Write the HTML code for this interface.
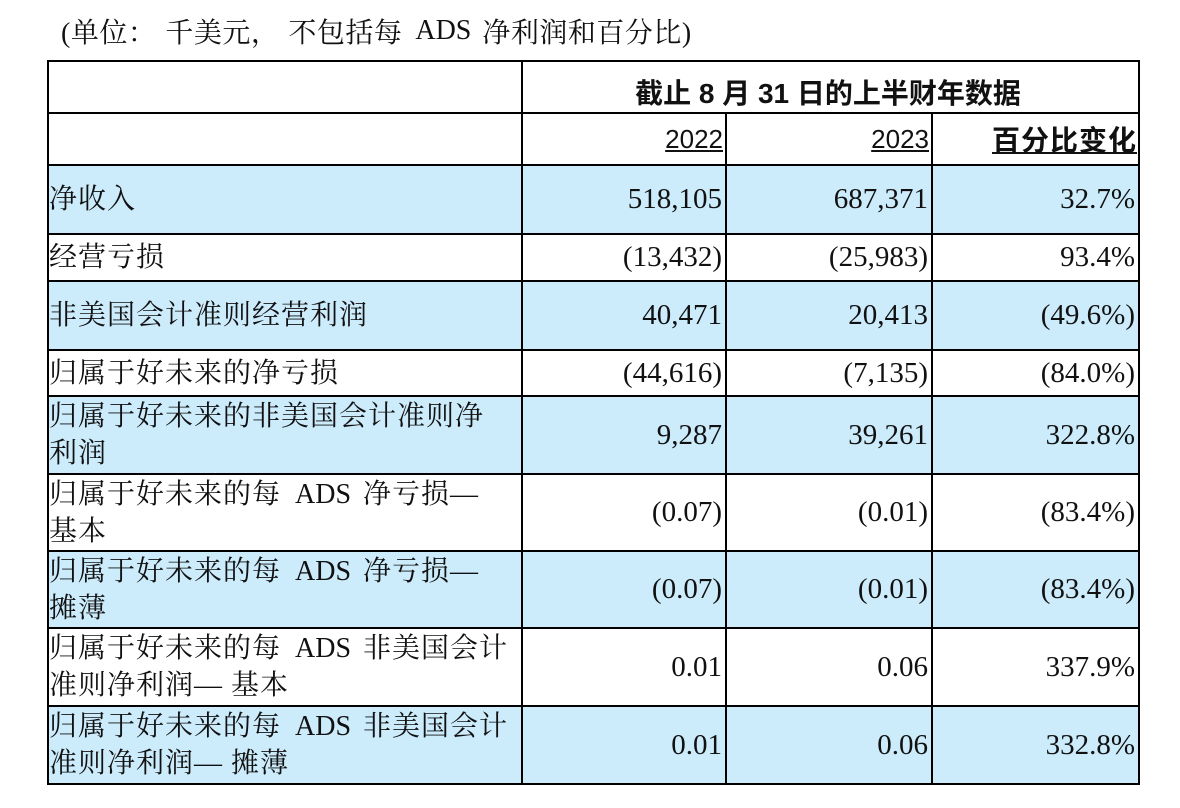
<!DOCTYPE html>
<html>
<head>
<meta charset="utf-8">
<style>
  html, body { margin:0; padding:0; background:#fff; }
  #wrap { position:relative; width:1180px; height:808px; overflow:hidden; background:#fff; }
  .ln { position:absolute; background:#000; }
  .bl { position:absolute; background:#ccecfc; left:47px; width:1093px; }
  .c { position:absolute; display:flex; align-items:center; white-space:nowrap; color:#111; }
  .lab { left:49px; width:470px; font-family:"Liberation Serif","Noto Serif CJK SC",serif; font-size:28px; letter-spacing:1px; line-height:37px; }
  .num { font-family:"Liberation Serif","Noto Serif CJK SC",serif; font-size:29px; justify-content:flex-end; }
  .n1 { left:523px; width:199px; }
  .n2 { left:727px; width:201px; }
  .n3 { left:933px; width:202px; }
  .a1 { margin:0 12px 0 14px; letter-spacing:0; }
</style>
</head>
<body>
<div id="wrap">
  <!-- title -->
  <div class="c" style="left:61px;top:12px;height:38px;font-family:'Liberation Serif','Noto Serif CJK SC',serif;font-size:28px;letter-spacing:0.5px;color:#111;">(单位：<span style="display:inline-block;width:9px"></span>千美元，<span style="display:inline-block;width:9px"></span>不包括每<span style="margin:0 11px 0 13px;letter-spacing:0">ADS</span>净利润和百分比)</div>

  <!-- blue rows -->
  <div class="bl" style="top:166px;height:67px;"></div>
  <div class="bl" style="top:282px;height:67px;"></div>
  <div class="bl" style="top:397px;height:76px;"></div>
  <div class="bl" style="top:552px;height:75px;"></div>
  <div class="bl" style="top:707px;height:76px;"></div>

  <!-- horizontal lines -->
  <div class="ln" style="left:47px;width:1093px;top:60px;height:2px;"></div>
  <div class="ln" style="left:47px;width:1093px;top:112px;height:2px;"></div>
  <div class="ln" style="left:47px;width:1093px;top:164px;height:2px;"></div>
  <div class="ln" style="left:47px;width:1093px;top:233px;height:2px;"></div>
  <div class="ln" style="left:47px;width:1093px;top:280px;height:2px;"></div>
  <div class="ln" style="left:47px;width:1093px;top:349px;height:2px;"></div>
  <div class="ln" style="left:47px;width:1093px;top:395px;height:2px;"></div>
  <div class="ln" style="left:47px;width:1093px;top:473px;height:2px;"></div>
  <div class="ln" style="left:47px;width:1093px;top:550px;height:2px;"></div>
  <div class="ln" style="left:47px;width:1093px;top:627px;height:2px;"></div>
  <div class="ln" style="left:47px;width:1093px;top:705px;height:2px;"></div>
  <div class="ln" style="left:47px;width:1093px;top:783px;height:2px;"></div>

  <!-- vertical lines -->
  <div class="ln" style="left:47px;width:2px;top:60px;height:725px;"></div>
  <div class="ln" style="left:521px;width:2px;top:60px;height:725px;"></div>
  <div class="ln" style="left:725px;width:2px;top:112px;height:673px;"></div>
  <div class="ln" style="left:931px;width:2px;top:112px;height:673px;"></div>
  <div class="ln" style="left:1138px;width:2px;top:60px;height:725px;"></div>

  <!-- header -->
  <div class="c" style="left:523px;width:610px;top:70px;height:44px;justify-content:center;font-family:'Liberation Sans','Noto Sans CJK SC',sans-serif;font-weight:bold;font-size:28px;">截止 8 月 31 日的上半财年数据</div>
  <div class="c" style="left:523px;width:200px;top:114px;height:50px;justify-content:flex-end;font-family:'Liberation Sans',sans-serif;font-size:26px;"><span style="text-decoration:underline;">2022</span></div>
  <div class="c" style="left:727px;width:202px;top:114px;height:50px;justify-content:flex-end;font-family:'Liberation Sans',sans-serif;font-size:26px;"><span style="text-decoration:underline;">2023</span></div>
  <div class="c" style="left:933px;width:204px;top:114px;height:50px;justify-content:flex-end;font-family:'Liberation Sans','Noto Sans CJK SC',sans-serif;font-weight:bold;font-size:28px;letter-spacing:1px;"><span style="text-decoration:underline;">百分比变化</span></div>

  <!-- row 净收入 -->
  <div class="c lab" style="top:166px;height:67px;">净收入</div>
  <div class="c num n1" style="top:166px;height:67px;">518,105</div>
  <div class="c num n2" style="top:166px;height:67px;">687,371</div>
  <div class="c num n3" style="top:166px;height:67px;">32.7%</div>

  <!-- 经营亏损 -->
  <div class="c lab" style="top:235px;height:45px;">经营亏损</div>
  <div class="c num n1" style="top:235px;height:45px;">(13,432)</div>
  <div class="c num n2" style="top:235px;height:45px;">(25,983)</div>
  <div class="c num n3" style="top:235px;height:45px;">93.4%</div>

  <!-- 非美国会计准则经营利润 -->
  <div class="c lab" style="top:282px;height:67px;">非美国会计准则经营利润</div>
  <div class="c num n1" style="top:282px;height:67px;">40,471</div>
  <div class="c num n2" style="top:282px;height:67px;">20,413</div>
  <div class="c num n3" style="top:282px;height:67px;">(49.6%)</div>

  <!-- 归属于好未来的净亏损 -->
  <div class="c lab" style="top:351px;height:44px;">归属于好未来的净亏损</div>
  <div class="c num n1" style="top:351px;height:44px;">(44,616)</div>
  <div class="c num n2" style="top:351px;height:44px;">(7,135)</div>
  <div class="c num n3" style="top:351px;height:44px;">(84.0%)</div>

  <!-- 非美国会计准则净利润 -->
  <div class="c lab" style="top:397px;height:76px;"><div>归属于好未来的非美国会计准则净<br>利润</div></div>
  <div class="c num n1" style="top:397px;height:76px;">9,287</div>
  <div class="c num n2" style="top:397px;height:76px;">39,261</div>
  <div class="c num n3" style="top:397px;height:76px;">322.8%</div>

  <!-- 每ADS净亏损—基本 -->
  <div class="c lab" style="top:475px;height:75px;"><div>归属于好未来的每<span class="a1">ADS</span>净亏损—<br>基本</div></div>
  <div class="c num n1" style="top:475px;height:75px;">(0.07)</div>
  <div class="c num n2" style="top:475px;height:75px;">(0.01)</div>
  <div class="c num n3" style="top:475px;height:75px;">(83.4%)</div>

  <!-- 每ADS净亏损—摊薄 -->
  <div class="c lab" style="top:552px;height:75px;"><div>归属于好未来的每<span class="a1">ADS</span>净亏损—<br>摊薄</div></div>
  <div class="c num n1" style="top:552px;height:75px;">(0.07)</div>
  <div class="c num n2" style="top:552px;height:75px;">(0.01)</div>
  <div class="c num n3" style="top:552px;height:75px;">(83.4%)</div>

  <!-- 非美国 基本 -->
  <div class="c lab" style="top:629px;height:76px;"><div>归属于好未来的每<span class="a1">ADS</span>非美国会计<br>准则净利润— 基本</div></div>
  <div class="c num n1" style="top:629px;height:76px;">0.01</div>
  <div class="c num n2" style="top:629px;height:76px;">0.06</div>
  <div class="c num n3" style="top:629px;height:76px;">337.9%</div>

  <!-- 非美国 摊薄 -->
  <div class="c lab" style="top:707px;height:76px;"><div>归属于好未来的每<span class="a1">ADS</span>非美国会计<br>准则净利润— 摊薄</div></div>
  <div class="c num n1" style="top:707px;height:76px;">0.01</div>
  <div class="c num n2" style="top:707px;height:76px;">0.06</div>
  <div class="c num n3" style="top:707px;height:76px;">332.8%</div>
</div>
</body>
</html>
